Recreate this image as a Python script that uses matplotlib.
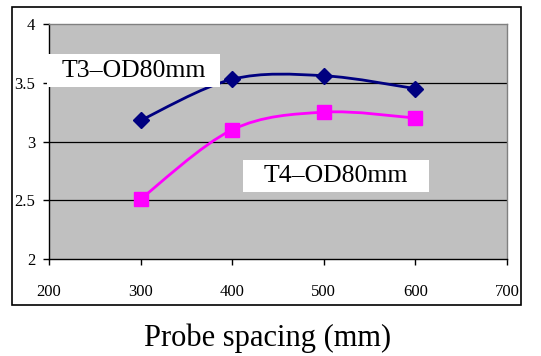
import numpy as np
import matplotlib
matplotlib.use("Agg")
import matplotlib.pyplot as plt
from matplotlib.patches import Rectangle
from matplotlib.path import Path
from matplotlib.patches import PathPatch

spacing = [300, 400, 500, 600]
t3_values = [3.18, 3.53, 3.56, 3.45]
t4_values = [2.51, 3.10, 3.25, 3.20]
x_ticks = [200, 300, 400, 500, 600, 700]
y_ticks = [2, 2.5, 3, 3.5, 4]
y_tick_labels = ["2", "2.5", "3", "3.5", "4"]

plt.rcParams['font.family'] = ['Liberation Serif', 'DejaVu Serif']

fig = plt.figure(figsize=(5.41, 3.56), dpi=100)
ax = fig.add_axes([0.0906, 0.2725, 0.8464, 0.66])
ax.set_facecolor('#C0C0C0')


def smooth_path(xs, ys):
    """Bezier smoothing through the points (Catmull-Rom style control points)."""
    xs = np.asarray(xs, float)
    ys = np.asarray(ys, float)
    n = len(xs)
    verts = [(xs[0], ys[0])]
    codes = [Path.MOVETO]
    for i in range(n - 1):
        i0 = max(i - 1, 0)
        i3 = min(i + 2, n - 1)
        c1 = (xs[i] + (xs[i + 1] - xs[i0]) / 6, ys[i] + (ys[i + 1] - ys[i0]) / 6)
        c2 = (xs[i + 1] - (xs[i3] - xs[i]) / 6, ys[i + 1] - (ys[i3] - ys[i]) / 6)
        verts += [c1, c2, (xs[i + 1], ys[i + 1])]
        codes += [Path.CURVE4] * 3
    return Path(verts, codes)


for vals, color, marker, ms in [(t3_values, '#000080', 'D', 8),
                                (t4_values, '#FF00FF', 's', 10.5)]:
    ax.add_patch(PathPatch(smooth_path(spacing, vals), facecolor='none',
                           edgecolor=color, lw=2.0, zorder=3))
    ax.plot(spacing, vals, linestyle='none', marker=marker, ms=ms,
            color=color, zorder=4)

ax.set_xlim(200, 700)
ax.set_ylim(2, 4)
ax.set_xticks(x_ticks)
ax.set_yticks(y_ticks)
ax.set_yticklabels(y_tick_labels)
for y in y_ticks[1:-1]:
    ax.axhline(y, color='black', lw=0.9, zorder=1)

for side in ['top', 'right']:
    ax.spines[side].set_color('#808080')
    ax.spines[side].set_linewidth(1.0)
for side in ['left', 'bottom']:
    ax.spines[side].set_color('black')
    ax.spines[side].set_linewidth(1.0)

ax.tick_params(axis='x', direction='out', length=4, width=1.0, pad=14,
               labelsize=12)
ax.tick_params(axis='y', direction='out', length=4, width=1.0, pad=6,
               labelsize=12)

# white label boxes with the series names
labels = [("T3\u2013OD80mm", (0.0869, 0.7556, 0.3198, 0.0927)),
          ("T4\u2013OD80mm", (0.4492, 0.4607, 0.3438, 0.0899))]
for text, (x0, y0, w, h) in labels:
    fig.patches.append(Rectangle((x0, y0), w, h, transform=fig.transFigure,
                                 facecolor='white', edgecolor='none', zorder=5))
    fig.text(x0 + w / 2, y0 + h / 2, text, ha='center', va='center',
             fontsize=18.5, zorder=6)

# outer chart frame
fig.patches.append(Rectangle((0.0222, 0.1433), 0.9408, 0.8367,
                             transform=fig.transFigure, fill=False,
                             edgecolor='black', lw=1.2))

fig.text(0.494, 0.05, "Probe spacing (mm)", ha='center', va='center',
         fontsize=22)

fig.savefig("out.png", dpi=100)
